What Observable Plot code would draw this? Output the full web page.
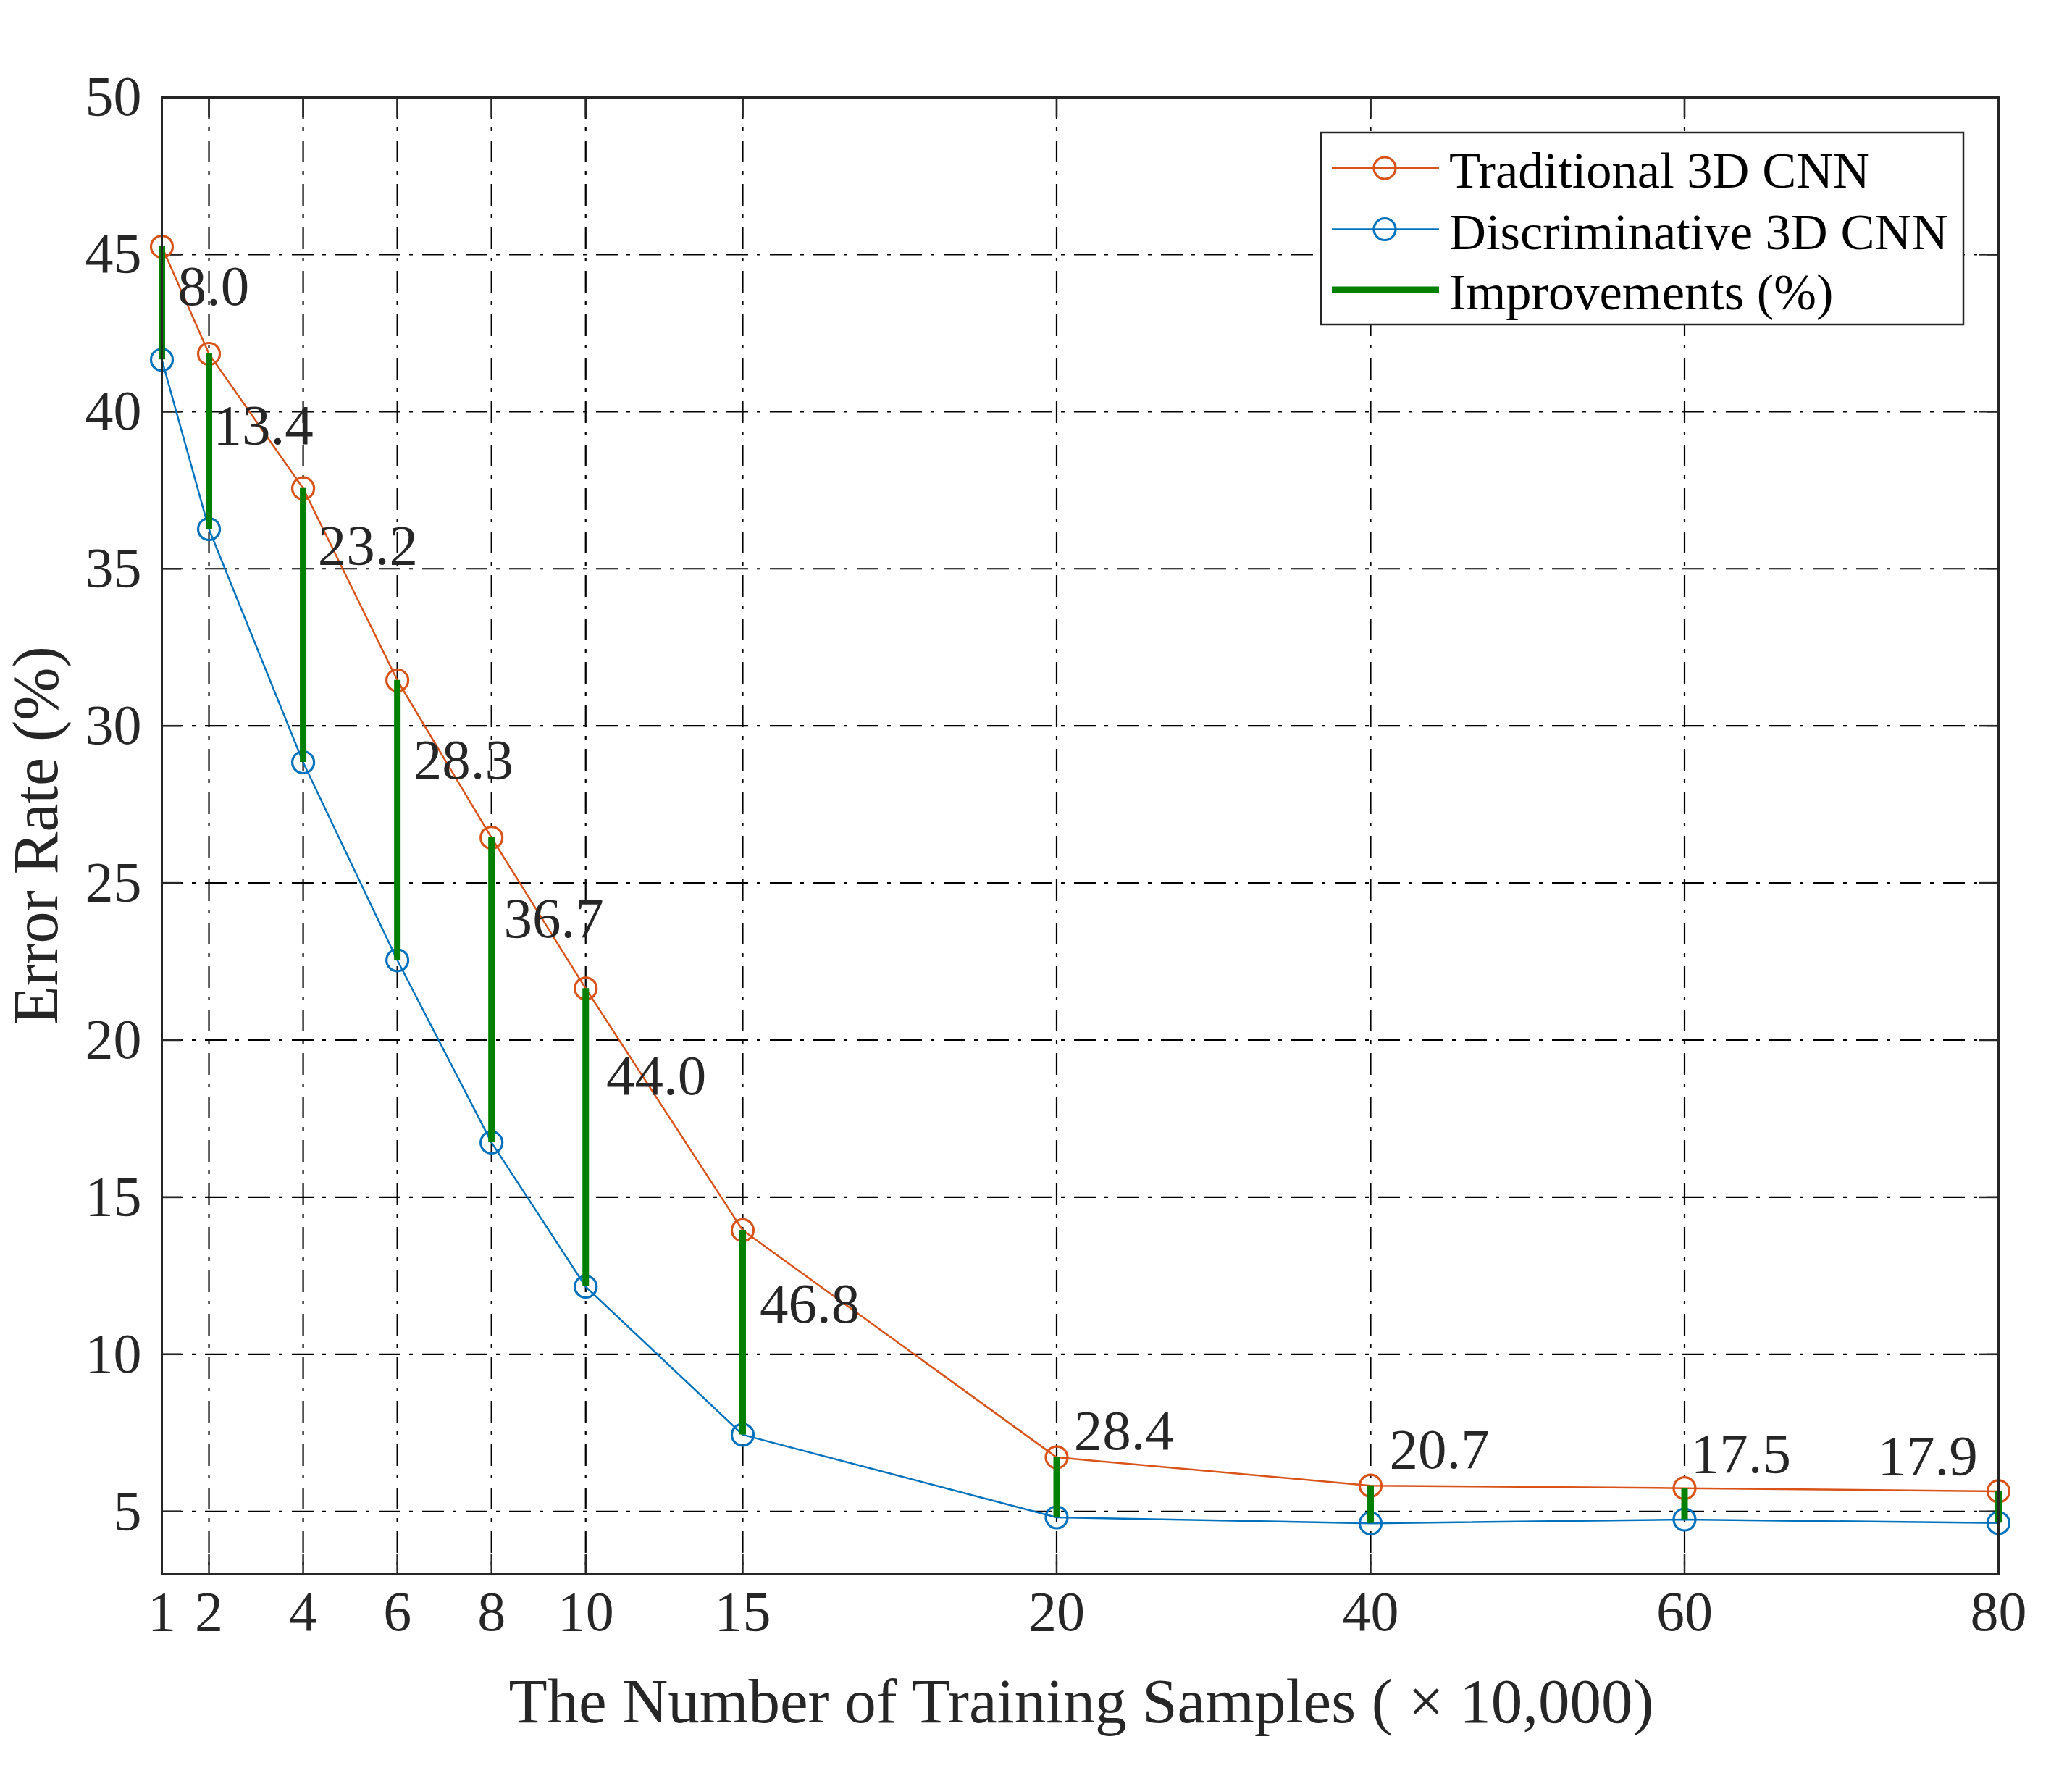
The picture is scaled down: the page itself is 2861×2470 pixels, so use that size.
<!DOCTYPE html>
<html>
<head>
<meta charset="utf-8">
<script src="https://cdn.jsdelivr.net/npm/d3@7"></script>
<script src="https://cdn.jsdelivr.net/npm/@observablehq/plot@0.6"></script>
<style>
  html, body { margin: 0; padding: 0; background: #ffffff; }
  #chart { width: 2861px; height: 2470px; }
</style>
</head>
<body>
<div id="chart"></div>
<script>
// ---- data ----
const samples = [1, 2, 4, 6, 8, 10, 15, 20, 40, 60, 80];            // x tick labels (×10,000)
const xSlot = [1.5, 3, 6, 9, 12, 15, 20, 30, 40, 50, 60];           // slot of each sample count on the original's non-uniform axis
const traditional = [45.25, 41.84, 37.56, 31.45, 26.44, 21.64, 13.95, 6.72, 5.82, 5.74, 5.64];
const discriminative = [41.65, 36.26, 28.84, 22.54, 16.74, 12.15, 7.44, 4.81, 4.62, 4.74, 4.63];
const improvements = ["8.0", "13.4", "23.2", "28.3", "36.7", "44.0", "46.8", "28.4", "20.7", "17.5", "17.9"];
const labelX = [1.34, 2.09, 4.31, 6.34, 8.26, 10.65, 15.27, 21.1, 41.2, 60.4, 72.3];
const labelY = [43.39, 38.98, 35.14, 28.31, 23.28, 18.26, 11.02, 6.98, 6.38, 6.24, 6.18];
const yTicks = [5, 10, 15, 20, 25, 30, 35, 40, 45, 50];
const seriesNames = ["Traditional 3D CNN", "Discriminative 3D CNN", "Improvements (%)"];
const xTitle = "The Number of Training Samples ( × 10,000)";
const yTitle = "Error Rate (%)";

// ---- layout ----
const W = 2861, H = 2470;
const mL = 223, mR = 102, mT = 134, mB = 297;
const frameW = W - mL - mR, frameH = H - mT - mB;
const s0 = xSlot[0], s1 = xSlot[xSlot.length - 1];
const xRange = xSlot.map(s => mL + (s - s0) / (s1 - s0) * frameW);

const FONT = "'Liberation Serif', 'Times New Roman', Times, serif";
const INK = "#262626";
const C_TRAD = "#D95319", C_DISC = "#0072BD", C_IMP = "#008000";
const idx = samples.map((_, i) => i);
const tick = 27;

const chart = Plot.plot({
  width: W,
  height: H,
  marginLeft: mL,
  marginRight: mR,
  marginTop: mT,
  marginBottom: mB,
  style: { fontFamily: FONT, fontSize: "78px", color: INK, background: "#ffffff", overflow: "visible" },
  x: { type: "linear", domain: samples, range: xRange },
  y: { type: "linear", domain: [3, 50] },
  marks: [
    // dash-dot grid
    Plot.ruleX(samples, { x: d => d, stroke: "#000", strokeWidth: 2.2, strokeDasharray: "30,12,5,13" }),
    Plot.ruleY(yTicks, { y: d => d, stroke: "#000", strokeWidth: 2.2, strokeDasharray: "30,12,5,13" }),
    // inward ticks on all four sides
    Plot.ruleX(samples, { x: d => d, insetTop: frameH - tick, stroke: INK, strokeWidth: 2.5 }),
    Plot.ruleX(samples, { x: d => d, insetBottom: frameH - tick, stroke: INK, strokeWidth: 2.5 }),
    Plot.ruleY(yTicks, { y: d => d, insetRight: frameW - tick, stroke: INK, strokeWidth: 2.5 }),
    Plot.ruleY(yTicks, { y: d => d, insetLeft: frameW - tick, stroke: INK, strokeWidth: 2.5 }),
    // series
    Plot.line(idx, { x: i => samples[i], y: i => traditional[i], stroke: C_TRAD, strokeWidth: 2.5 }),
    Plot.line(idx, { x: i => samples[i], y: i => discriminative[i], stroke: C_DISC, strokeWidth: 2.5 }),
    Plot.dot(idx, { x: i => samples[i], y: i => traditional[i], r: 15, stroke: C_TRAD, strokeWidth: 3.2, fill: "none" }),
    Plot.dot(idx, { x: i => samples[i], y: i => discriminative[i], r: 15, stroke: C_DISC, strokeWidth: 3.2, fill: "none" }),
    // improvement bars
    Plot.ruleX(idx, { x: i => samples[i], y1: i => traditional[i], y2: i => discriminative[i], stroke: C_IMP, strokeWidth: 9 }),
    // improvement labels
    Plot.text(idx, { x: i => labelX[i], y: i => labelY[i], text: i => improvements[i], textAnchor: "start", lineAnchor: "bottom", fontSize: 79, fill: INK, fontFamily: FONT }),
    // axes
    Plot.axisX({ ticks: samples, tickSize: 0, tickPadding: 22, tickFormat: d => String(d), label: null, fontSize: 78, fill: INK }),
    Plot.axisY({ ticks: yTicks, tickSize: 0, tickPadding: 28, tickFormat: d => String(d), label: null, fontSize: 78, fill: INK }),
    Plot.frame({ stroke: INK, strokeWidth: 3 })
  ]
});

document.getElementById("chart").appendChild(chart);

// ---- axis titles & legend ----
const svg = d3.select(chart);
svg.append("text")
  .attr("x", mL + frameW / 2 + 2).attr("y", 2378)
  .attr("text-anchor", "middle").attr("font-family", FONT).attr("font-size", 87).attr("fill", INK)
  .text(xTitle);
svg.append("text")
  .attr("transform", `translate(79,${mT + frameH / 2}) rotate(-90)`)
  .attr("text-anchor", "middle").attr("font-family", FONT).attr("font-size", 88).attr("fill", INK)
  .text(yTitle);

const lg = svg.append("g").attr("text-anchor", "start");
lg.append("rect").attr("x", 1824).attr("y", 183).attr("width", 887).attr("height", 265)
  .attr("fill", "#ffffff").attr("stroke", INK).attr("stroke-width", 2.5);
const rows = [
  { cy: 232, color: C_TRAD, marker: true, w: 2.5 },
  { cy: 316.5, color: C_DISC, marker: true, w: 2.5 },
  { cy: 400, color: C_IMP, marker: false, w: 9 }
];
rows.forEach((r, i) => {
  lg.append("line").attr("x1", 1839).attr("x2", 1987).attr("y1", r.cy).attr("y2", r.cy)
    .attr("stroke", r.color).attr("stroke-width", r.w);
  if (r.marker) {
    lg.append("circle").attr("cx", 1912).attr("cy", r.cy).attr("r", 15)
      .attr("fill", "none").attr("stroke", r.color).attr("stroke-width", 3.2);
  }
  lg.append("text").attr("x", 2001).attr("y", r.cy + 27)
    .attr("text-anchor", "start")
    .attr("font-family", FONT).attr("font-size", 70.5).attr("fill", "#000")
    .text(seriesNames[i]);
});
</script>
</body>
</html>
